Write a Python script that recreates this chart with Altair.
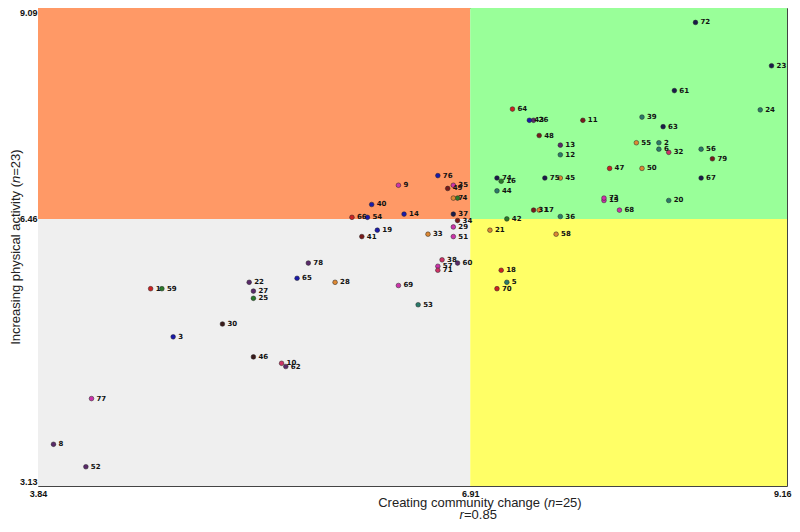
import altair as alt
import pandas as pd

# ---- data ----
ids = [1, 2, 3, 4, 5, 6, 7, 8, 9, 10,
       11, 12, 13, 14, 15, 16, 17, 18, 19, 20,
       21, 22, 23, 24, 25, 26, 27, 28, 29, 30,
       31, 32, 33, 34, 35, 36, 37, 38, 39, 40,
       41, 42, 43, 44, 45, 46, 47, 48, 49, 50,
       51, 52, 53, 54, 55, 56, 57, 58, 59, 60,
       61, 62, 63, 64, 65, 66, 67, 68, 69, 70,
       71, 72, 73, 74, 75, 76, 77, 78, 79]
community = [4.64, 8.25, 4.80, 6.82, 7.17, 8.25, 6.79, 3.95, 6.40, 5.57,
             7.71, 7.55, 7.55, 6.44, 7.86, 7.13, 7.40, 7.13, 6.25, 8.32,
             7.05, 5.34, 9.05, 8.97, 5.37, 7.36, 5.37, 5.95, 6.79, 5.15,
             7.36, 8.32, 6.61, 6.82, 6.79, 7.55, 6.79, 6.71, 8.13, 6.21,
             6.14, 7.17, 7.33, 7.10, 7.55, 5.37, 7.90, 7.40, 6.75, 8.13,
             6.79, 4.18, 6.54, 6.18, 8.09, 8.55, 6.68, 7.52, 4.72, 6.82,
             8.36, 5.60, 8.28, 7.21, 5.68, 6.07, 8.55, 7.97, 6.40, 7.10,
             6.68, 8.51, 7.86, 7.10, 7.44, 6.68, 4.22, 5.76, 8.63]
activity = [5.59, 7.41, 4.99, 6.72, 5.67, 7.33, 6.72, 3.65, 6.88, 4.66,
            7.69, 7.26, 7.38, 6.52, 6.69, 6.93, 6.57, 5.82, 6.32, 6.69,
            6.32, 5.67, 8.37, 7.82, 5.47, 7.69, 5.56, 5.67, 6.36, 5.15,
            6.57, 7.29, 6.27, 6.44, 6.88, 6.49, 6.52, 5.95, 7.73, 6.64,
            6.24, 6.46, 7.69, 6.81, 6.97, 4.74, 7.09, 7.50, 6.84, 7.09,
            6.24, 3.37, 5.39, 6.48, 7.41, 7.33, 5.87, 6.27, 5.59, 5.91,
            8.06, 4.62, 7.61, 7.83, 5.72, 6.48, 6.97, 6.57, 5.63, 5.59,
            5.82, 8.91, 6.72, 6.97, 6.97, 7.00, 4.22, 5.91, 7.21]
groups = ["red", "teal", "blue", "green", "teal", "teal", "orange", "purple", "magenta", "pink",
          "darkred", "teal", "purple", "blue", "magenta", "green", "orange", "red", "blue", "teal",
          "orange", "purple", "navy", "teal", "green", "purple", "purple", "orange", "magenta", "brown",
          "darkred", "pink", "orange", "darkred", "magenta", "teal", "navy", "pink", "teal", "blue",
          "darkred", "green", "blue", "teal", "orange", "brown", "red", "darkred", "darkred", "orange",
          "magenta", "purple", "teal", "blue", "orange", "teal", "magenta", "orange", "green", "purple",
          "navy", "purple", "navy", "red", "blue", "red", "navy", "magenta", "magenta", "red",
          "pink", "navy", "magenta", "navy", "navy", "blue", "magenta", "purple", "darkred"]

x_ticks = [3.84, 6.91, 9.16]
y_ticks = [3.13, 6.46, 9.09]

quad_x1 = [3.84, 6.91, 3.84, 6.91]
quad_x2 = [6.91, 9.16, 6.91, 9.16]
quad_y1 = [6.46, 6.46, 3.13, 3.13]
quad_y2 = [9.09, 9.09, 6.46, 6.46]
quad_name = ["tl", "tr", "bl", "br"]

# ---- build ----
pts = pd.DataFrame({"id": ids, "x": community, "y": activity, "g": groups})
pts["label"] = pts["id"].astype(str)
quads = pd.DataFrame({"x1": quad_x1, "x2": quad_x2, "y1": quad_y1, "y2": quad_y2, "q": quad_name})

PAD_L = 30
W, H = 749, 478
xs = alt.Scale(domain=[x_ticks[0], x_ticks[-1]], nice=False, zero=False)
ys = alt.Scale(domain=[y_ticks[0], y_ticks[-1]], nice=False, zero=False)

AX_FONT = "Liberation Sans"

x_axis = alt.Axis(values=x_ticks, format=".2f", title=None, grid=False, domain=False,
                  ticks=False, labelFont=AX_FONT, labelFontWeight="bold", labelFontSize=9,
                  labelColor="#111", labelPadding=3, labelFlush=False,
                  labelAlign={"condition": {"test": "datum.value > 9", "value": "right"},
                              "value": "center"},
                  labelOffset={"condition": {"test": "datum.value > 9", "value": 4},
                               "value": 0})
y_axis = alt.Axis(values=y_ticks, format=".2f", title=None, grid=False, domain=False,
                  ticks=False, labelFont=AX_FONT, labelFontWeight="bold", labelFontSize=9,
                  labelColor="#111", labelPadding=1, labelFlush=True)

bg = alt.Chart(quads).mark_rect(strokeWidth=0).encode(
    x=alt.X("x1:Q", scale=xs, axis=x_axis),
    x2="x2:Q",
    y=alt.Y("y1:Q", scale=ys, axis=y_axis),
    y2="y2:Q",
    color=alt.Color("q:N", legend=None,
                    scale=alt.Scale(domain=["tl", "tr", "bl", "br"],
                                    range=["#FF9966", "#99FF99", "#EFEFEF", "#FFFF66"])),
)

group_dom = ["red", "teal", "blue", "green", "orange", "purple", "magenta", "pink",
             "darkred", "navy", "brown"]
group_rng = ["#CC2222", "#2A7A6A", "#1A1AAA", "#2A7A2A", "#DD8833", "#5A2A6A",
             "#CC33AA", "#CC3366", "#7A1A1A", "#1A1A4A", "#3A1A1A"]

points = alt.Chart(pts).mark_circle(size=22, opacity=1, stroke="#222", strokeWidth=0.5).encode(
    x=alt.X("x:Q", scale=xs),
    y=alt.Y("y:Q", scale=ys),
    color=alt.Color("g:N", legend=None, scale=alt.Scale(domain=group_dom, range=group_rng)),
)

labels = alt.Chart(pts).mark_text(align="left", baseline="middle", dx=5, font="DejaVu Sans",
                                  fontWeight="bold", fontSize=7, color="#111").encode(
    x=alt.X("x:Q", scale=xs),
    y=alt.Y("y:Q", scale=ys),
    text="label:N",
)

one = alt.Data(values=[{"a": 1}])
TF = "Liberation Sans"
TS = 13
TC = "#222"

def txt(s, x, y, align, italic=False, angle=0):
    kw = dict(align=align, baseline="middle", font=TF, fontSize=TS, color=TC)
    if italic:
        kw["fontStyle"] = "italic"
    if angle:
        kw["angle"] = angle
    return alt.Chart(one).mark_text(**kw).encode(
        x=alt.value(x), y=alt.value(y), text=alt.value(s))

# x title pieces (page x ~ 378..582), shifted into plot coordinates
xo = 8 + PAD_L
xt_y = 495
xt1 = txt("Creating community change (", 548 - xo, xt_y, "right")
xt2 = txt("n", 548 - xo, xt_y, "left", italic=True)
xt3 = txt("=25)", 555.3 - xo, xt_y, "left")
r1 = txt("r", 459.6 - xo, 507, "left", italic=True)
r2 = txt(" =0.85", 464 - xo, 507, "left")

yt_x = 15.5 - xo
yt1 = txt("Increasing physical activity (", yt_x, 175, "right", angle=270)
yt2 = txt("n", yt_x, 175, "left", italic=True, angle=270)
yt3 = txt("=23)", yt_x, 167.8, "left", angle=270)

chart = alt.layer(bg, points, labels, xt1, xt2, xt3, r1, r2, yt1, yt2, yt3).resolve_scale(
    color="independent"
).properties(
    width=W, height=H,
    autosize=alt.AutoSizeParams(type="none"),
    padding={"left": PAD_L, "top": 0, "right": 5, "bottom": 36},
    background="white",
).configure_view(stroke="#444", strokeWidth=1)

chart.save("out.html", embed_options={"renderer": "svg", "actions": False})
